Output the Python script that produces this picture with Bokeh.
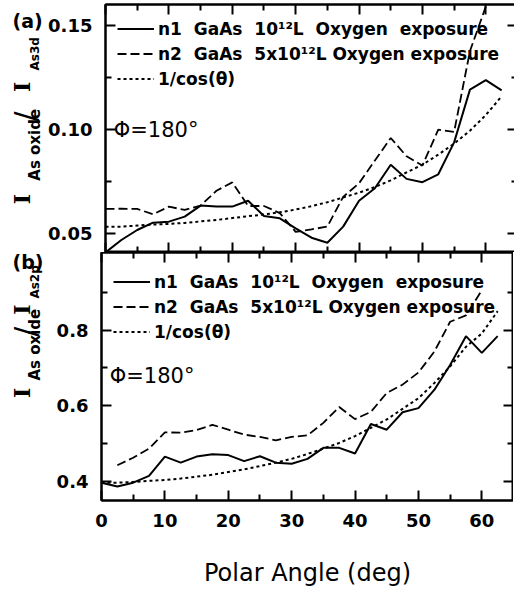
import numpy as np
from bokeh.plotting import figure
from bokeh.layouts import column, row
from bokeh.models import (Range1d, LinearAxis, FixedTicker, PrintfTickFormatter,
                          Legend, LegendItem, Label)
from bokeh.embed import file_html
from bokeh.resources import INLINE

# ---------------- data ----------------
angle = [0, 2.5, 5, 7.5, 10, 12.5, 15, 17.5, 20, 22.5, 25, 27.5, 30, 32.5, 35,
         37.5, 40, 42.5, 45, 47.5, 50, 52.5, 55, 57.5, 60, 62.5]

a_n1 = [0.0411, 0.0471, 0.0519, 0.0554, 0.0559, 0.0583, 0.0636, 0.0631, 0.0631,
        0.0659, 0.0586, 0.0575, 0.0527, 0.0482, 0.0458, 0.0535, 0.0659, 0.0719,
        0.0832, 0.0764, 0.0748, 0.0786, 0.0939, 0.1192, 0.1237, 0.1188]
a_n2 = [0.0620, 0.0621, 0.0620, 0.0594, 0.0631, 0.0615, 0.0636, 0.0707, 0.0747,
        0.0634, 0.0634, 0.0600, 0.0510, 0.0522, 0.0535, 0.0678, 0.0743, 0.0852,
        0.0960, 0.0872, 0.0828, 0.1000, 0.0989, 0.1377, 0.1590, 0.1850]
a_cos = [0.0535, 0.0535, 0.0540, 0.0545, 0.0548, 0.0553, 0.0560, 0.0567, 0.0576,
         0.0585, 0.0593, 0.0604, 0.0617, 0.0633, 0.0652, 0.0675, 0.0698, 0.0725,
         0.0757, 0.0795, 0.0832, 0.0880, 0.0933, 0.0995, 0.1070, 0.1160]

b_n1 = [0.397, 0.387, 0.397, 0.415, 0.466, 0.450, 0.466, 0.472, 0.470, 0.454,
        0.467, 0.450, 0.447, 0.460, 0.489, 0.489, 0.474, 0.552, 0.537, 0.583,
        0.594, 0.642, 0.708, 0.784, 0.740, 0.784]
b_n2_angle = [2.5, 5, 7.5, 10, 12.5, 15, 17.5, 20, 22.5, 25, 27.5, 30, 32.5, 35,
              37.5, 40, 42.5, 45, 47.5, 50, 52.5, 55, 57.5, 60]
b_n2 = [0.443, 0.463, 0.487, 0.530, 0.529, 0.536, 0.550, 0.537, 0.524, 0.518,
        0.509, 0.518, 0.522, 0.555, 0.597, 0.565, 0.584, 0.634, 0.656, 0.688,
        0.743, 0.822, 0.839, 0.905]
b_cos = [0.397, 0.397, 0.399, 0.402, 0.404, 0.408, 0.413, 0.418, 0.425, 0.432,
         0.441, 0.450, 0.460, 0.473, 0.487, 0.502, 0.520, 0.542, 0.564, 0.592,
         0.620, 0.660, 0.704, 0.756, 0.791, 0.850]

x_major = [0, 10, 20, 30, 40, 50, 60]
x_minor = [5, 15, 25, 35, 45, 55]
a_major = [0.05, 0.10, 0.15]
a_minor = [0.075, 0.125]
b_major = [0.4, 0.6, 0.8]
b_minor = [0.5, 0.7, 0.9]

legend_labels = ["n1\u00a0\u00a0GaAs\u00a0\u00a010\u00b9\u00b2L\u00a0\u00a0Oxygen\u00a0\u00a0exposure",
                 "n2\u00a0\u00a0GaAs\u00a0\u00a05x10\u00b9\u00b2L\u00a0Oxygen\u00a0exposure",
                 "1/cos(\u03b8)"]
phi_text = "\u03a6=180\u00b0"
x_title = "Polar Angle (deg)"

X0, X1 = 0, 65
FW, FH = 412, 248
LBL_W = 45          # width of the strip holding the y titles
LEFT = 101 - LBL_W  # remaining left border of the plot figure


def base_axis(ax):
    ax.axis_line_width = 2
    ax.axis_line_color = "black"
    ax.major_tick_in = 10
    ax.major_tick_out = 0
    ax.minor_tick_in = 6
    ax.minor_tick_out = 0
    ax.major_tick_line_width = 2
    ax.minor_tick_line_width = 2
    ax.major_label_text_font = "DejaVu Sans"
    ax.major_label_text_font_style = "bold"
    ax.major_label_text_font_size = "18px"
    ax.major_label_text_color = "black"


def tick_only_axes(p, side, major, minor):
    # two label-free axes: long ticks at major positions, short at minor ones
    a1 = LinearAxis(ticker=FixedTicker(ticks=[], minor_ticks=major))
    base_axis(a1)
    a1.minor_tick_in = 10
    a1.major_label_standoff = 0
    p.add_layout(a1, side)
    a2 = LinearAxis(ticker=FixedTicker(ticks=[], minor_ticks=minor))
    base_axis(a2)
    a2.axis_line_color = None
    a2.minor_tick_in = 6
    a2.major_label_standoff = 0
    p.add_layout(a2, side)


def make_panel(y0, y1, ymaj, ymin, fmt, top_border, bottom_border, show_x):
    p = figure(frame_width=FW, frame_height=FH, output_backend="svg",
               toolbar_location=None, x_range=Range1d(X0, X1),
               y_range=Range1d(y0, y1), min_border_left=LEFT,
               min_border_right=0, min_border_top=top_border,
               min_border_bottom=bottom_border,
               x_axis_location=None, y_axis_location=None)
    p.outline_line_color = "black"
    p.outline_line_width = 2
    p.grid.visible = False
    ya = LinearAxis(ticker=FixedTicker(ticks=ymaj, minor_ticks=ymin),
                    formatter=PrintfTickFormatter(format=fmt))
    base_axis(ya)
    ya.major_label_standoff = 13
    p.add_layout(ya, "left")
    if show_x:
        xa = LinearAxis(ticker=FixedTicker(ticks=x_major, minor_ticks=x_minor))
        base_axis(xa)
        xa.major_label_standoff = 13
        xa.axis_label = x_title
        xa.axis_label_text_font = "DejaVu Sans"
        xa.axis_label_text_font_size = "24px"
        xa.axis_label_text_font_style = "normal"
        xa.axis_label_text_color = "black"
        xa.axis_label_standoff = 29
        p.add_layout(xa, "below")
    else:
        tick_only_axes(p, "below", x_major, x_minor)
    tick_only_axes(p, "above", x_major, x_minor)
    tick_only_axes(p, "right", ymaj, ymin)
    return p


def add_lines(p, xs1, ys1, xs2, ys2, xs3, ys3, loc, row_h):
    r1 = p.line(xs1, ys1, line_color="black", line_width=2)
    r2 = p.line(xs2, ys2, line_color="black", line_width=1.8, line_dash="9 4")
    r3 = p.line(xs3, ys3, line_color="black", line_width=2, line_dash="3 3")
    leg = Legend(items=[LegendItem(label=legend_labels[0], renderers=[r1]),
                        LegendItem(label=legend_labels[1], renderers=[r2]),
                        LegendItem(label=legend_labels[2], renderers=[r3])],
                 location=loc, margin=0, padding=0,
                 border_line_color=None, background_fill_alpha=0,
                 glyph_width=37, glyph_height=row_h, label_height=row_h,
                 spacing=0, label_standoff=4,
                 label_text_font="DejaVu Sans", label_text_font_style="bold",
                 label_text_font_size="17px", label_text_color="black")
    p.add_layout(leg)


def label_strip(height, parts, corner, corner_y):
    s = figure(width=LBL_W, height=height, output_backend="svg",
               toolbar_location=None, x_range=Range1d(0, LBL_W),
               y_range=Range1d(height, 0), min_border=0,
               x_axis_location=None, y_axis_location=None)
    s.outline_line_color = None
    s.grid.visible = False
    for txt, xpx, ypx, size, font, style in parts:
        s.add_layout(Label(x=xpx, y=ypx, text=txt, angle=np.pi / 2,
                           text_align="left", text_baseline="middle",
                           text_font=font, text_font_size=size,
                           text_font_style=style, text_color="black"))
    s.add_layout(Label(x=12, y=corner_y, text=corner, text_align="left",
                       text_baseline="middle", text_font="DejaVu Sans",
                       text_font_size="19px", text_font_style="bold",
                       text_color="black"))
    return s


# ---------------- panel (a) ----------------
A0, A1 = 0.0411, 0.1600
pa = make_panel(A0, A1, a_major, a_minor, "%.2f", 4, 0, False)
add_lines(pa, angle, a_n1, angle, a_n2, angle, a_cos, (12, 161), 25)
pa.add_layout(Label(x=1.3, y=0.100, text=phi_text, text_baseline="middle",
                    text_font="DejaVu Sans", text_font_size="21px",
                    text_color="black"))
sa = label_strip(252, [
    ("I", 21, 203, "22px", "DejaVu Serif", "bold"),
    ("As oxide", 34, 179, "15px", "DejaVu Sans", "bold"),
    ("/", 25, 119, "30px", "DejaVu Sans", "normal"),
    ("I", 21, 89, "22px", "DejaVu Serif", "bold"),
    ("As3d", 34, 67, "12px", "DejaVu Sans", "bold"),
], "(a)", 17)

# ---------------- panel (b) ----------------
B0, B1 = 0.350, 1.005
pb = make_panel(B0, B1, b_major, b_minor, "%.1f", 0, 91, True)
add_lines(pb, angle, b_n1, b_n2_angle, b_n2, angle, b_cos, (12, 156), 25)
pb.add_layout(Label(x=1.3, y=0.679, text=phi_text, text_baseline="middle",
                    text_font="DejaVu Sans", text_font_size="21px",
                    text_color="black"))
sb = label_strip(339, [
    ("I", 21, 199, "22px", "DejaVu Serif", "bold"),
    ("As oxide", 34, 175, "15px", "DejaVu Sans", "bold"),
    ("/", 25, 115, "30px", "DejaVu Sans", "normal"),
    ("I", 21, 85, "22px", "DejaVu Serif", "bold"),
    ("As2p", 34, 63, "12px", "DejaVu Sans", "bold"),
], "(b)", 13)

layout = column(row(sa, pa, spacing=0), row(sb, pb, spacing=0), spacing=0)
open("out.html", "w").write(file_html(layout, INLINE))
